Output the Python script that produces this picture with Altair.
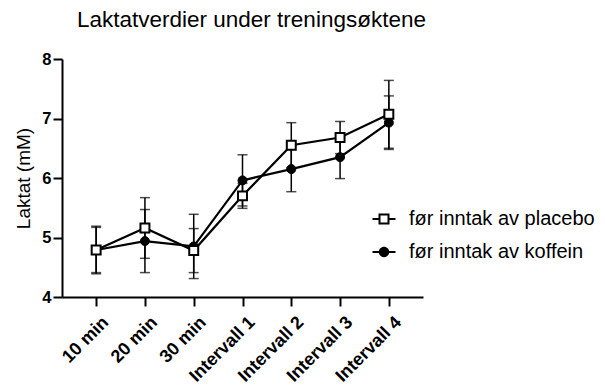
import altair as alt
import pandas as pd

# Measurement points and group means / SDs (mM)
categories = ["10 min", "20 min", "30 min", "Intervall 1", "Intervall 2", "Intervall 3", "Intervall 4"]
placebo_mean = [4.79, 5.16, 4.78, 5.70, 6.55, 6.68, 7.07]
placebo_sd = [0.40, 0.51, 0.37, 0.21, 0.38, 0.27, 0.57]
koffein_mean = [4.79, 4.94, 4.85, 5.96, 6.15, 6.35, 6.93]
koffein_sd = [0.38, 0.53, 0.54, 0.43, 0.38, 0.36, 0.45]
series = ["før inntak av placebo", "før inntak av koffein"]

rows = []
for name, means, sds in [(series[0], placebo_mean, placebo_sd), (series[1], koffein_mean, koffein_sd)]:
    for c, m, s in zip(categories, means, sds):
        rows.append({"tid": c, "gruppe": name, "laktat": m, "lo": m - s, "hi": m + s})
df = pd.DataFrame(rows)

FONT = "Liberation Sans"

# Legend symbols drawn as filled outlines: a short line segment with the
# marker on top (hollow square for placebo, solid dot for koffein)
legend_shapes = [
    "M-1.1,-1.1H1.1V1.1H-1.1Z M-0.7,-0.7V0.7H0.7V-0.7Z "
    "M-2.3,-0.2H-1.1V0.2H-2.3Z M1.1,-0.2H2.3V0.2H1.1Z",
    "M1.05,0A1.05,1.05,0,1,1,-1.05,0A1.05,1.05,0,1,1,1.05,0Z "
    "M-2.3,-0.2H2.3V0.2H-2.3Z",
]

x_enc = alt.X(
    "tid:N",
    sort=categories,
    scale=alt.Scale(type="point", padding=0.7),
    axis=alt.Axis(
        title=None,
        labelAngle=-45,
        labelAlign="right",
        labelBaseline="top",
        labelPadding=7,
        labelOffset=3,
        labelFontSize=18,
    ),
)
y_scale = alt.Scale(domain=[4, 8], nice=False, zero=False)
y_axis = alt.Axis(
    title="Laktat (mM)",
    values=[4, 5, 6, 7, 8],
    format="d",
    titleFont=FONT,
    titleFontSize=19,
    titleFontWeight="normal",
    titleColor="black",
    titlePadding=8,
    labelPadding=2,
    labelFontSize=16.5,
)

base = alt.Chart(df).encode(x=x_enc)

whiskers = base.mark_rule(color="black", strokeWidth=1.5).encode(
    y=alt.Y("lo:Q", scale=y_scale, axis=y_axis),
    y2="hi:Q",
    detail="gruppe:N",
)
caps_lo = base.mark_tick(color="black", size=10, thickness=1.5).encode(
    y=alt.Y("lo:Q", scale=y_scale), detail="gruppe:N"
)
caps_hi = base.mark_tick(color="black", size=10, thickness=1.5).encode(
    y=alt.Y("hi:Q", scale=y_scale), detail="gruppe:N"
)
lines = base.mark_line(color="black", strokeWidth=2.2).encode(
    y=alt.Y("laktat:Q", scale=y_scale), detail="gruppe:N"
)
koffein_pts = base.transform_filter(alt.datum.gruppe == series[1]).mark_point(
    shape="circle", filled=True, fill="black", stroke="black", strokeWidth=1, size=80, opacity=1
).encode(y=alt.Y("laktat:Q", scale=y_scale))
placebo_pts = base.transform_filter(alt.datum.gruppe == series[0]).mark_point(
    shape="square", filled=True, fill="white", stroke="black", strokeWidth=2, size=80, opacity=1
).encode(y=alt.Y("laktat:Q", scale=y_scale))

legend = alt.Legend(
    title=None,
    orient="none",
    legendX=312,
    legendY=150,
    labelFont=FONT,
    labelFontSize=20,
    labelColor="black",
    labelLimit=400,
    labelOffset=15,
    symbolSize=100,
    rowPadding=13,
    padding=0,
)
# Legend-only layer: no rows pass the filter, the fixed domain supplies the entries
legend_layer = base.transform_filter("false").mark_point(
    filled=True, color="black", size=100, opacity=1
).encode(
    y=alt.Y("laktat:Q", scale=y_scale),
    shape=alt.Shape("gruppe:N", scale=alt.Scale(domain=series, range=legend_shapes), legend=legend),
)

chart = (
    alt.layer(whiskers, caps_lo, caps_hi, lines, koffein_pts, placebo_pts, legend_layer)
    .properties(
        width=361,
        height=238,
        autosize=alt.AutoSizeParams(type="none"),
        padding={"left": 62, "top": 59, "right": 182, "bottom": 92},
        title=alt.TitleParams(
            "Laktatverdier under treningsøktene",
            anchor="start",
            frame="group",
            dx=15,
            offset=20,
            font=FONT,
            fontSize=22.5,
            fontWeight="normal",
            color="black",
        ),
    )
    .configure_view(stroke=None)
    .configure_axis(
        grid=False,
        domainColor="black",
        domainWidth=2,
        tickColor="black",
        tickWidth=2,
        tickSize=9,
        labelFont=FONT,
        labelFontWeight="bold",
        labelColor="black",
    )
)

chart.save("out.html", embed_options={"renderer": "svg", "actions": False})
